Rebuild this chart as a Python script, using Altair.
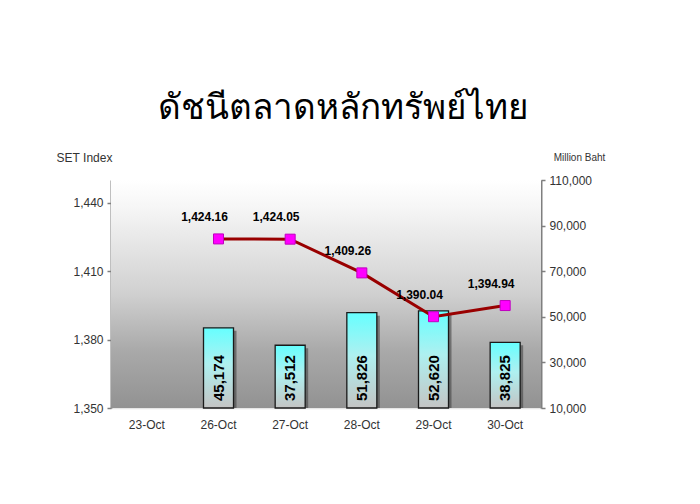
import altair as alt
import pandas as pd

dates = ["23-Oct", "26-Oct", "27-Oct", "28-Oct", "29-Oct", "30-Oct"]
set_index = [None, 1424.16, 1424.05, 1409.26, 1390.04, 1394.94]
volume = [None, 45174, 37512, 51826, 52620, 38825]
left_ticks = [1350, 1380, 1410, 1440]
right_ticks = [10000, 30000, 50000, 70000, 90000, 110000]

df = pd.DataFrame({"date": dates, "set": set_index, "vol": volume})

FONT = "Liberation Sans"
W, H = 430, 228

x = alt.X("date:N", sort=dates, scale=alt.Scale(domain=dates, paddingInner=0.58, paddingOuter=0.29),
          axis=alt.Axis(title=None, labelAngle=0, ticks=False, domainColor="#e6e6e6", domainWidth=1,
                        labelColor="#333333", labelFontSize=12, labelPadding=11, labelFont=FONT))

yr_scale = alt.Scale(domain=[10000, 110000], zero=False, nice=False)
yr_axis = alt.Axis(orient="right", values=right_ticks, format=",.0f", grid=False,
                   domainColor="#7f7f7f", domainWidth=2, tickColor="#7f7f7f", tickSize=4,
                   tickWidth=1.5, labelColor="#333333", labelFontSize=12, labelFont=FONT,
                   labelPadding=4, title="Million Baht", titleAngle=0, titleX=38, titleY=-23,
                   titleAlign="center", titleBaseline="middle", titleFontSize=10,
                   titleFontWeight="normal", titleColor="#333333", titleFont=FONT)

bar_grad = alt.LinearGradient(gradient="linear", x1=0, x2=0, y1=0, y2=1,
                              stops=[alt.GradientStop(color="#66ffff", offset=0),
                                     alt.GradientStop(color="#aef0f0", offset=0.45),
                                     alt.GradientStop(color="#c4c4c4", offset=1)])

bg_grad = alt.LinearGradient(gradient="linear", x1=0, x2=0, y1=0, y2=1,
                             stops=[alt.GradientStop(color="#ffffff", offset=0),
                                    alt.GradientStop(color="#f6f6f6", offset=0.12),
                                    alt.GradientStop(color="#d0d0d0", offset=0.5),
                                    alt.GradientStop(color="#a9a9a9", offset=0.75),
                                    alt.GradientStop(color="#929292", offset=1)])

background = alt.Chart(pd.DataFrame({"k": [0]})).mark_rect(color=bg_grad).encode(
    x=alt.value(0), x2=alt.value(W), y=alt.value(0), y2=alt.value(H))

base = alt.Chart(df)
valid_vol = base.transform_filter("isValid(datum.vol)")
valid_set = base.transform_filter("isValid(datum.set)")

shadow = valid_vol.mark_bar(color="#3c3c3c", opacity=0.55, xOffset=3, yOffset=3, size=30).encode(
    x=x, y=alt.Y("vol:Q", scale=yr_scale, axis=yr_axis), y2=alt.Y2(datum=10000))
bars = valid_vol.mark_bar(color=bar_grad, stroke="#1a1a1a", strokeWidth=1.3, size=30).encode(
    x=x, y=alt.Y("vol:Q", scale=yr_scale, axis=yr_axis), y2=alt.Y2(datum=10000))
bar_labels = valid_vol.mark_text(angle=270, align="left", baseline="middle", dx=7, fontSize=15,
                                 fontWeight="bold", font=FONT, color="#000000").encode(
    x=x, y=alt.Y(datum=10000, scale=yr_scale), text=alt.Text("vol:Q", format=",.0f"))

bar_layer = alt.layer(background, shadow, bars, bar_labels)

yl_scale = alt.Scale(domain=[1350, 1450], zero=False, nice=False)
yl_axis = alt.Axis(orient="left", values=left_ticks, format=",.0f", grid=True, gridColor="#e2e2e2",
                   gridWidth=1.5, domainColor="#7f7f7f", domainWidth=2, tickColor="#7f7f7f",
                   tickSize=4, tickWidth=1.5, labelColor="#333333", labelFontSize=12, labelFont=FONT,
                   labelPadding=4, title="SET Index", titleAngle=0, titleX=-27, titleY=-23,
                   titleAlign="center", titleBaseline="middle", titleFontSize=12,
                   titleFontWeight="normal", titleColor="#333333", titleFont=FONT)

line = valid_set.mark_line(color="#990000", strokeWidth=3).encode(
    x=x, y=alt.Y("set:Q", scale=yl_scale, axis=yl_axis))
points = valid_set.mark_point(shape="square", filled=True, size=100, color="#ff00ff", opacity=1,
                              stroke="#c000c0", strokeWidth=1).encode(
    x=x, y=alt.Y("set:Q", scale=yl_scale))
point_labels = valid_set.mark_text(dx=-14, dy=-22, fontSize=12, fontWeight="bold", font=FONT,
                                   color="#000000").encode(
    x=x, y=alt.Y("set:Q", scale=yl_scale), text=alt.Text("set:Q", format=",.2f"))

line_layer = alt.layer(line, points, point_labels)

chart = alt.layer(bar_layer, line_layer).resolve_scale(y="independent").properties(
    width=W, height=H,
    autosize=alt.AutoSizeParams(type="none"),
    padding={"left": 103, "top": 172, "right": 150, "bottom": 80},
    title=alt.TitleParams("ดัชนีตลาดหลักทรัพย์ไทย", fontSize=35, fontWeight="normal",
                          font="Tahoma, 'DejaVu Sans', sans-serif", color="#000000",
                          anchor="middle", dx=17, offset=25),
).configure_view(stroke=None).configure(background="#ffffff")

chart.save("out.html", embed_options={"renderer": "svg", "actions": False})
